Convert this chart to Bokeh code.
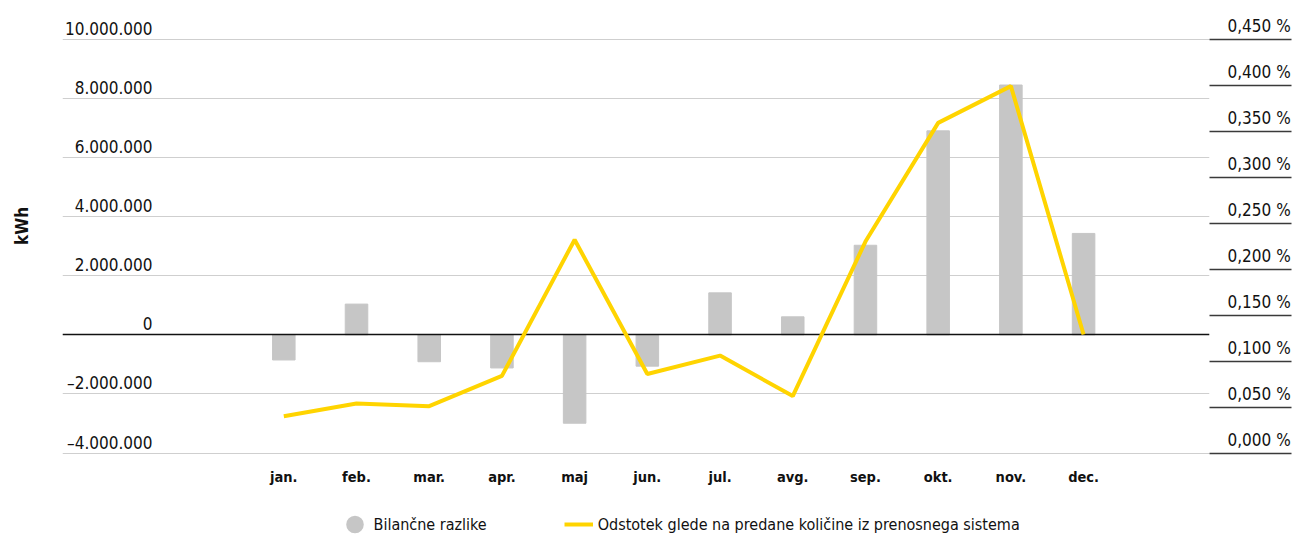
from bokeh.plotting import figure
from bokeh.models import (Range1d, LinearAxis, FixedTicker, Legend, LegendItem)
from bokeh.embed import file_html
from bokeh.resources import INLINE

# ---------------- data ----------------
months = ["jan.", "feb.", "mar.", "apr.", "maj", "jun.", "jul.", "avg.", "sep.", "okt.", "nov.", "dec."]
bilancne_razlike = [-850000, 1040000, -910000, -1120000, -2990000, -1060000,
                    1420000, 610000, 3030000, 6900000, 8450000, 3430000]
odstotek = [0.040, 0.054, 0.051, 0.084, 0.232, 0.086, 0.106, 0.062, 0.230, 0.359, 0.399, 0.129]

left_ticks = [-4000000, -2000000, 0, 2000000, 4000000, 6000000, 8000000, 10000000]
left_labels = ["–4.000.000", "–2.000.000", "0", "2.000.000", "4.000.000",
               "6.000.000", "8.000.000", "10.000.000"]
right_ticks = [0.0, 0.05, 0.1, 0.15, 0.2, 0.25, 0.3, 0.35, 0.4, 0.45]
right_labels = ["0,000 %", "0,050 %", "0,100 %", "0,150 %", "0,200 %",
                "0,250 %", "0,300 %", "0,350 %", "0,400 %", "0,450 %"]
y_title = "kWh"

# ---------------- layout (page px) ----------------
W, H = 1293, 536
FL, FR, FT, FB = 62, 1210, 0, 536            # frame edges
Y_TOP, Y_BOT = 38.7, 452.6                   # px of top / bottom tick
X0, DX = 283.5, 72.77                        # px of first month, px per month
MONTH_TOP = 468                              # px of top of month labels

FONT = "DejaVu Sans Condensed, Roboto"
GRAY = "#c6c6c6"
YELLOW = "#ffd400"
TXT = "#111111"

ppu = (Y_BOT - Y_TOP) / (left_ticks[-1] - left_ticks[0])
y_end = left_ticks[-1] + (Y_TOP - FT) / ppu
y_start = left_ticks[0] - (FB - Y_BOT) / ppu
pps = (Y_BOT - Y_TOP) / (right_ticks[-1] - right_ticks[0])
p_end = right_ticks[-1] + (Y_TOP - FT) / pps
p_start = right_ticks[0] - (FB - Y_BOT) / pps
x_start = (FL - X0) / DX
x_end = (FR - X0) / DX

p = figure(width=W, height=H, output_backend="svg", toolbar_location=None,
           x_range=Range1d(x_start, x_end), y_range=Range1d(y_start, y_end),
           min_border_left=FL, min_border_right=W - FR,
           min_border_top=0, min_border_bottom=0)
p.outline_line_color = None
p.background_fill_color = "white"
p.border_fill_color = "white"
p.extra_y_ranges = {"pct": Range1d(p_start, p_end)}

idx = list(range(len(months)))

# grid
p.xgrid.visible = False
p.ygrid.ticker = FixedTicker(ticks=left_ticks)
p.ygrid.grid_line_color = "#cfcfcf"
p.ygrid.grid_line_width = 1.2

# x axis: labels pulled up into the plot area
xax = p.xaxis[0]
xax.ticker = FixedTicker(ticks=idx)
xax.major_label_overrides = {i: m for i, m in zip(idx, months)}
xax.axis_line_color = None
xax.major_tick_line_color = None
xax.major_tick_in = 0
xax.major_tick_out = 0
xax.minor_tick_line_color = None
xax.major_label_standoff = MONTH_TOP - FB
xax.major_label_text_font = FONT
xax.major_label_text_font_style = "bold"
xax.major_label_text_font_size = "14.5px"
xax.major_label_text_color = TXT

# left axis (labels sit above grid lines, inside the frame)
lax = p.yaxis[0]
lax.ticker = FixedTicker(ticks=left_ticks)
lax.major_label_overrides = {t: l + "\n" for t, l in zip(left_ticks, left_labels)}
lax.axis_line_color = None
lax.major_tick_line_color = None
lax.major_tick_in = 0
lax.major_tick_out = 0
lax.minor_tick_line_color = None
lax.major_label_standoff = -90
lax.major_label_text_font = FONT
lax.major_label_text_font_size = "17px"
lax.major_label_text_line_height = 1.05
lax.major_label_text_color = TXT
# leading no-break spaces lift the centred title towards the upper part
lax.axis_label = "\u00a0" * 16 + y_title
lax.axis_label_standoff = 30
lax.axis_label_text_font = FONT
lax.axis_label_text_font_style = "bold"
lax.axis_label_text_font_size = "17px"
lax.axis_label_text_color = TXT

# right axis: tick marks act as underlines
rax = LinearAxis(y_range_name="pct", ticker=FixedTicker(ticks=right_ticks),
                 major_label_overrides={t: l + "\n" for t, l in zip(right_ticks, right_labels)},
                 axis_line_color=None, major_tick_in=0, major_tick_out=82,
                 major_tick_line_color="#3a3a3a", major_tick_line_width=1.6,
                 minor_tick_line_color=None, major_label_standoff=-64,
                 major_label_text_font=FONT, major_label_text_font_size="17px",
                 major_label_text_line_height=1.35, major_label_text_color=TXT)
p.add_layout(rax, "right")

# bars
bars = p.vbar(x=idx, top=bilancne_razlike, bottom=0, width=0.31,
              fill_color=GRAY, line_color=GRAY)
# zero line
p.hspan(y=[0], line_color="#111111", line_width=1.6)
# percentage line
ln = p.line(x=idx, y=odstotek, y_range_name="pct", line_color=YELLOW, line_width=4)

# hidden circle renderer of the same series, used only for its legend symbol
dots = p.scatter(x=idx, y=bilancne_razlike, marker="circle", fill_color=GRAY,
                 line_color=GRAY, line_width=8, visible=False)

legend = Legend(items=[LegendItem(label="Bilančne razlike", renderers=[dots], index=0),
                       LegendItem(label="Odstotek glede na predane količine iz prenosnega sistema",
                                  renderers=[ln])],
                location=(339.5 - FL, 0), orientation="horizontal",
                glyph_width=29, glyph_height=24, label_height=24, label_standoff=5, spacing=77,
                padding=0, margin=0, border_line_color=None, background_fill_alpha=0,
                label_text_font=FONT, label_text_font_size="16px", label_text_color=TXT)
p.add_layout(legend)

open("out.html", "w").write(file_html(p, INLINE))
